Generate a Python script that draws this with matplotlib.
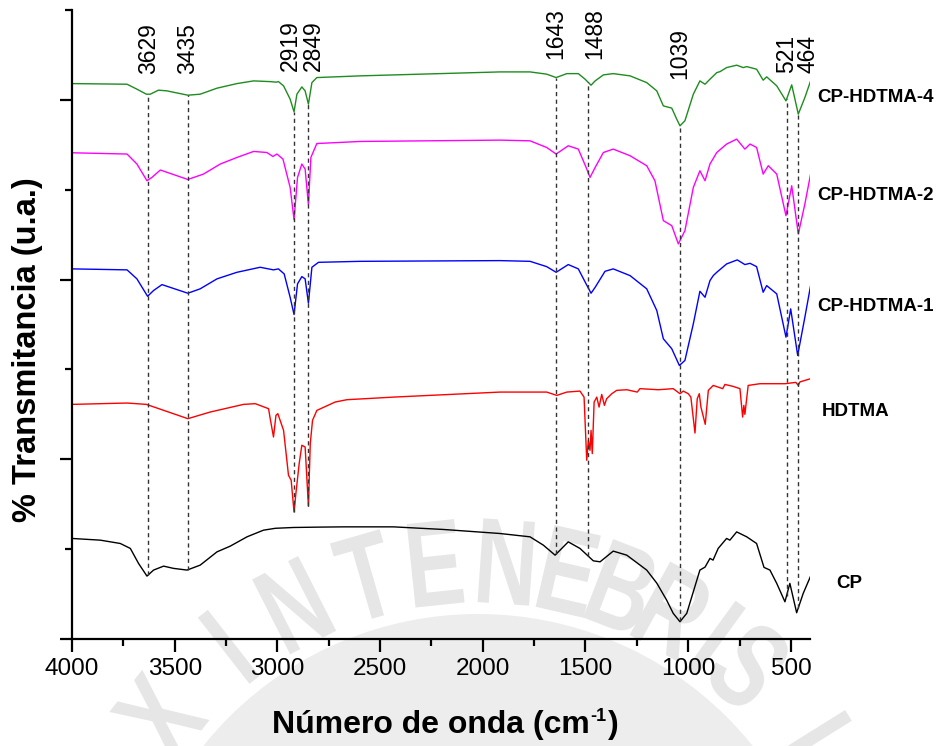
import numpy as np
import matplotlib
matplotlib.use('Agg')
import matplotlib.pyplot as plt
from matplotlib.ticker import MultipleLocator, NullFormatter
from matplotlib.patches import Circle, PathPatch
from matplotlib.textpath import TextPath
from matplotlib.font_manager import FontProperties
from matplotlib.transforms import Affine2D

plt.rcParams['font.family'] = ['Liberation Sans', 'DejaVu Sans']

# FTIR spectra (offset vertically, arbitrary units)
wn_hdtma4 = [4000, 3732, 3684, 3638, 3619, 3579, 3538, 3436, 3376, 3294, 3197, 3116, 3035, 3006,
             2995, 2970, 2938, 2919, 2905, 2881, 2865, 2849, 2832, 2808, 2597, 1916, 1770, 1689,
             1643, 1591, 1535, 1502, 1473, 1453, 1413, 1365, 1283, 1202, 1153, 1121, 1080, 1056,
             1040, 1016, 975, 943, 918, 894, 861, 845, 813, 764, 732, 715, 667, 635, 618, 569,
             524, 496, 464, 432, 404]
t_hdtma4 = [6.181, 6.174, 6.119, 6.063, 6.063, 6.108, 6.100, 6.052, 6.063, 6.130, 6.181, 6.211,
            6.203, 6.197, 6.203, 6.156, 6.008, 5.867, 6.063, 6.144, 6.100, 5.952, 6.192, 6.248,
            6.267, 6.311, 6.311, 6.286, 6.248, 6.292, 6.292, 6.230, 6.163, 6.211, 6.278, 6.292,
            6.267, 6.192, 6.100, 5.933, 5.908, 5.786, 5.711, 5.767, 6.063, 6.211, 6.174, 6.230,
            6.303, 6.314, 6.359, 6.386, 6.359, 6.370, 6.341, 6.219, 6.256, 6.156, 5.989, 6.167,
            5.841, 6.026, 6.211]

wn_hdtma2 = [4000, 3732, 3684, 3635, 3611, 3570, 3436, 3360, 3278, 3197, 3116, 3051, 3022, 3002,
             2973, 2938, 2919, 2902, 2881, 2865, 2849, 2837, 2808, 2597, 1916, 1770, 1689, 1643,
             1584, 1535, 1497, 1478, 1453, 1413, 1365, 1283, 1202, 1162, 1121, 1080, 1048, 1016,
             975, 943, 918, 894, 861, 813, 764, 724, 699, 667, 635, 610, 569, 524, 496, 464, 432,
             404]
t_hdtma2 = [5.411, 5.397, 5.286, 5.100, 5.137, 5.219, 5.114, 5.174, 5.286, 5.359, 5.426, 5.414,
            5.370, 5.397, 5.341, 5.026, 4.667, 5.137, 5.286, 5.230, 4.833, 5.359, 5.514, 5.537,
            5.552, 5.544, 5.470, 5.397, 5.489, 5.452, 5.248, 5.137, 5.248, 5.414, 5.452, 5.378,
            5.267, 5.100, 4.656, 4.600, 4.397, 4.544, 5.026, 5.211, 5.100, 5.286, 5.414, 5.508,
            5.563, 5.452, 5.508, 5.470, 5.174, 5.267, 5.174, 4.711, 5.044, 4.508, 4.841, 5.174]

wn_hdtma1 = [4000, 3732, 3684, 3632, 3603, 3562, 3436, 3376, 3294, 3197, 3084, 3019, 2995, 2967,
             2938, 2919, 2902, 2881, 2865, 2849, 2832, 2800, 2597, 1916, 1770, 1689, 1643, 1584,
             1535, 1497, 1473, 1453, 1405, 1365, 1283, 1202, 1153, 1121, 1080, 1043, 1016, 975,
             943, 918, 894, 878, 861, 813, 761, 724, 699, 667, 635, 618, 569, 524, 501, 467, 432,
             404]
t_hdtma1 = [4.119, 4.108, 4.008, 3.814, 3.878, 3.944, 3.848, 3.897, 4.008, 4.081, 4.137, 4.108,
            4.119, 4.063, 3.803, 3.611, 3.952, 4.033, 4.008, 3.737, 4.137, 4.192, 4.203, 4.211,
            4.203, 4.144, 4.081, 4.167, 4.119, 3.952, 3.848, 3.914, 4.092, 4.119, 4.044, 3.897,
            3.656, 3.341, 3.230, 3.044, 3.100, 3.508, 3.870, 3.803, 3.989, 4.044, 4.081, 4.174,
            4.219, 4.167, 4.181, 4.144, 3.859, 3.933, 3.841, 3.359, 3.674, 3.156, 3.581, 3.933]

wn_hdtma = [4000, 3732, 3638, 3436, 3327, 3165, 3108, 3043, 3035, 3019, 3007, 2998, 2970, 2954,
            2946, 2933, 2919, 2910, 2894, 2881, 2865, 2849, 2840, 2829, 2808, 2719, 2662, 2435,
            1916, 1689, 1640, 1591, 1527, 1507, 1494, 1486, 1478, 1473, 1467, 1458, 1445, 1434,
            1421, 1408, 1397, 1372, 1348, 1299, 1248, 1235, 1146, 1073, 1040, 1024, 1000, 987,
            967, 956, 946, 938, 917, 902, 878, 832, 821, 781, 748, 735, 729, 724, 708, 651, 529,
            476, 464, 456, 404]
t_hdtma = [2.611, 2.626, 2.611, 2.452, 2.526, 2.611, 2.619, 2.563, 2.452, 2.248, 2.489, 2.508,
           2.322, 1.989, 1.822, 1.767, 1.414, 1.619, 1.952, 2.156, 2.137, 1.478, 2.174, 2.433,
           2.544, 2.637, 2.663, 2.692, 2.748, 2.748, 2.711, 2.748, 2.759, 2.692, 1.989, 2.211,
           2.100, 2.322, 2.063, 2.637, 2.692, 2.581, 2.722, 2.600, 2.674, 2.730, 2.767, 2.774,
           2.748, 2.786, 2.774, 2.786, 2.730, 2.759, 2.730, 2.692, 2.292, 2.674, 2.730, 2.581,
           2.389, 2.767, 2.822, 2.786, 2.833, 2.811, 2.786, 2.470, 2.600, 2.500, 2.822, 2.841,
           2.841, 2.856, 2.822, 2.861, 2.897]

wn_cp = [4000, 3862, 3765, 3716, 3676, 3635, 3603, 3554, 3506, 3440, 3376, 3294, 3230, 3148,
         3068, 3010, 2922, 2800, 2678, 2435, 2192, 1916, 1770, 1705, 1648, 1584, 1527, 1462,
         1429, 1365, 1299, 1202, 1153, 1105, 1073, 1040, 1007, 943, 918, 894, 879, 854, 813,
         797, 764, 715, 667, 631, 602, 569, 529, 505, 472, 440, 404]
t_cp = [1.119, 1.100, 1.063, 1.008, 0.841, 0.700, 0.767, 0.811, 0.786, 0.767, 0.822, 0.970,
        1.033, 1.137, 1.211, 1.232, 1.241, 1.245, 1.248, 1.248, 1.219, 1.174, 1.137, 1.044,
        0.933, 1.081, 1.008, 0.870, 0.859, 0.978, 0.933, 0.767, 0.622, 0.433, 0.286, 0.192,
        0.286, 0.767, 0.800, 0.897, 0.878, 1.008, 1.119, 1.100, 1.192, 1.137, 1.063, 0.797,
        0.767, 0.619, 0.414, 0.619, 0.292, 0.508, 0.700]

series_names = ['CP-HDTMA-4', 'CP-HDTMA-2', 'CP-HDTMA-1', 'HDTMA', 'CP']
series_wn = [wn_hdtma4, wn_hdtma2, wn_hdtma1, wn_hdtma, wn_cp]
series_t = [t_hdtma4, t_hdtma2, t_hdtma1, t_hdtma, t_cp]
colors = ['#1e8c1e', '#ff00ff', '#0000ff', '#ff0000', '#000000']

# marked bands and the spectrum each guide line runs down to
peaks = [3629, 3435, 2919, 2849, 1643, 1488, 1039, 521, 464]
peak_bottom = ['CP', 'CP', 'HDTMA', 'HDTMA', 'CP', 'CP', 'CP', 'CP', 'CP']

W, H = 941, 746
fig = plt.figure(figsize=(W / 100, H / 100), dpi=100)


def fx(x):
    return x / W


def fy(y):
    return 1 - y / H


# faint seal in the background (pixel coordinates, y downwards)
bg = fig.add_axes([0, 0, 1, 1], zorder=-1)
bg.set_xlim(0, W)
bg.set_ylim(H, 0)
bg.axis('off')
cx, cy, R = 478, 966, 405
bg.add_patch(Circle((cx, cy), 352, color='#ededed', lw=0))
seal_font = FontProperties(family='Liberation Sans', weight='bold')
for ch, ang in zip('XINTENEBRISL', [142, 128, 117, 106, 96, 86, 77, 69, 61, 54, 48, 32]):
    tp = TextPath((0, 0), ch, size=122, prop=seal_font)
    ext = tp.get_extents()
    a = np.radians(ang)
    tr = (Affine2D().translate(-(ext.x0 + ext.x1) / 2, -(ext.y0 + ext.y1) / 2)
          .scale(0.72, -1).rotate_deg(-(ang - 90))
          .translate(cx + R * np.cos(a), cy - R * np.sin(a)))
    bg.add_patch(PathPatch(tr.transform_path(tp), color='#e6e6e6', lw=0))

ax = fig.add_axes([fx(72), 1 - 639 / H, fx(810 - 72), (639 - 10) / H])
ax.set_facecolor('none')

for wn, t, c in zip(series_wn, series_t, colors):
    ax.plot(wn, t, color=c, lw=1.0)

by_name = dict(zip(series_names, zip(series_wn, series_t)))
for p, low in zip(peaks, peak_bottom):
    top = np.interp(p, wn_hdtma4[::-1], t_hdtma4[::-1])
    lw_, lt_ = by_name[low]
    bot = np.interp(p, lw_[::-1], lt_[::-1])
    ax.plot([p, p], [bot, top], color='#333333', lw=1.0, ls=(0, (3, 2.5)))

# rotated band labels: x shift (cm-1) and baseline height
label_dx = [0, 0, 19, -23, 0, -35, 0, 2, -45]
label_y = [6.29, 6.29, 6.32, 6.32, 6.46, 6.46, 6.23, 6.30, 6.30]
for p, dx, ly in zip(peaks, label_dx, label_y):
    ax.text(p + dx, ly, str(p), rotation=90, ha='center', va='bottom', fontsize=16.5)

ax.set_xlim(4000, 407)
ax.set_ylim(0, 7)
ax.xaxis.set_major_locator(MultipleLocator(500))
ax.xaxis.set_minor_locator(MultipleLocator(250))
ax.yaxis.set_major_locator(MultipleLocator(2))
ax.yaxis.set_minor_locator(MultipleLocator(1))
ax.yaxis.set_major_formatter(NullFormatter())
for s in ['top', 'right']:
    ax.spines[s].set_visible(False)
for s in ['left', 'bottom']:
    ax.spines[s].set_linewidth(1.6)
ax.tick_params(which='major', length=9, width=1.6, labelsize=17.5, pad=5)
ax.tick_params(which='minor', length=5, width=1.6)

# series names on the right
name_pos = [(817, 97), (817, 196), (817, 307), (822, 412), (836, 583)]
for name, (x, y) in zip(series_names, name_pos):
    fig.text(fx(x), fy(y), name, ha='left', va='center', fontsize=13.5, fontweight='bold')

# x label with a small "-1" superscript
renderer = fig.canvas.get_renderer()
xl = fig.text(fx(272), fy(733), 'Número de onda (cm', ha='left', va='baseline',
              fontsize=23, fontweight='bold')
x1 = xl.get_window_extent(renderer).x1
sup = fig.text(x1 / W + 0.001, fy(721), '-1', ha='left', va='baseline',
               fontsize=13, fontweight='bold')
x2 = sup.get_window_extent(renderer).x1
fig.text(x2 / W + 0.001, fy(733), ')', ha='left', va='baseline', fontsize=23, fontweight='bold')

fig.text(fx(28), fy(350), '% Transmitancia (u.a.)', rotation=90, ha='center', va='center',
         fontsize=23.5, fontweight='bold')

fig.savefig('out.png', dpi=100)
